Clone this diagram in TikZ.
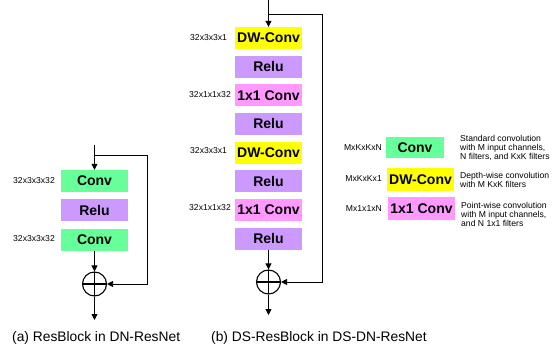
\documentclass[tikz,border=0pt]{standalone}
\usepackage{fontspec}
\setmainfont{Liberation Sans}
\definecolor{convgreen}{HTML}{66FF99}
\definecolor{relupurple}{HTML}{CC99FF}
\definecolor{dwyellow}{HTML}{FFFF00}
\definecolor{pwpink}{HTML}{FF99FF}
\usetikzlibrary{calc}
\usetikzlibrary{positioning}
\usetikzlibrary{arrows.meta}

\begin{document}
\begin{tikzpicture}[x=1pt, y=-1pt,
    blk/.style={rectangle, minimum width=67pt, minimum height=22pt, inner sep=0pt, font=\fontsize{14}{16}\selectfont\bfseries},
    dim/.style={inner sep=0pt, font=\fontsize{8.6}{9}\selectfont},
    flow/.style={-{Triangle[width=6pt,length=6pt]}, line width=0.8pt},
    sum/.style={circle, draw, line width=1.1pt, minimum size=24pt, inner sep=0pt,
      path picture={\draw[line width=1.1pt] (path picture bounding box.north) -- (path picture bounding box.south)
        (path picture bounding box.west) -- (path picture bounding box.east);}}]
      \useasboundingbox (0,0) rectangle (552,350);
      % (a) ResBlock
      \node[blk, fill=convgreen] (a1) at (94.5,181) {Conv};
      \node[blk, fill=relupurple, below=7pt of a1] (a2) {Relu};
      \node[blk, fill=convgreen, below=7pt of a2] (a3) {Conv};
      \node[sum] (s1) at (94.5,284) {};
      \node[dim, anchor=east] (d1) at (55,181) {32x3x3x32};
      \node[dim, anchor=east] (d2) at (55,239) {32x3x3x32};
      \coordinate (ain) at (94.5,145);
      \coordinate (abr) at (94.5,155);
      \coordinate (acorner) at (147,155);
      \coordinate (aout) at (94.5,320);
      \draw[flow] (ain) -- (a1);
      \draw[flow] (abr) -- (acorner) |- (s1);
      \draw[flow] (a3) -- (s1);
      \draw[flow] (s1) -- (aout);
      \node[anchor=west, inner sep=0pt, font=\fontsize{13.8}{15}\selectfont] (ca) at (12,338) {(a) ResBlock in DN-ResNet};
      % (b) DS-ResBlock
      \node[blk, fill=dwyellow] (b1) at (268.5,38) {DW-Conv};
      \node[blk, fill=relupurple, below=6.25pt of b1] (b2) {Relu};
      \node[blk, fill=pwpink, below=6.25pt of b2] (b3) {1x1 Conv};
      \node[blk, fill=relupurple, below=6.25pt of b3] (b4) {Relu};
      \node[blk, fill=dwyellow, below=6.25pt of b4] (b5) {DW-Conv};
      \node[blk, fill=relupurple, below=6.25pt of b5] (b6) {Relu};
      \node[blk, fill=pwpink, below=6.25pt of b6] (b7) {1x1 Conv};
      \node[blk, fill=relupurple, below=6.25pt of b7] (b8) {Relu};
      \node[sum] (s2) at (268.5,282) {};
      \node[dim, anchor=west] (e1) at (190,38) {32x3x3x1};
      \node[dim, anchor=west] (e2) at (189,94.5) {32x1x1x32};
      \node[dim, anchor=west] (e3) at (190,151) {32x3x3x1};
      \node[dim, anchor=west] (e4) at (189,207.5) {32x1x1x32};
      \coordinate (bin) at (268.5,0);
      \coordinate (bbr) at (268.5,14);
      \coordinate (bcorner) at (322,14);
      \coordinate (bout) at (268.5,315);
      \draw[flow] (bin) -- (b1);
      \draw[flow] (bbr) -- (bcorner) |- (s2);
      \draw[flow] (b8) -- (s2);
      \draw[flow] (s2) -- (bout);
      \node[anchor=west, inner sep=0pt, font=\fontsize{13.8}{15}\selectfont] (cb) at (211,338) {(b) DS-ResBlock in DS-DN-ResNet};
      % legend
      \node[blk, fill=convgreen, minimum width=58pt, minimum height=21pt] (l1) at (415,147.5) {Conv};
      \node[blk, fill=dwyellow, minimum height=23pt] (l2) at (420.5,179.5) {DW-Conv};
      \node[blk, fill=pwpink, minimum height=23pt] (l3) at (421.5,208.5) {1x1 Conv};
      \node[dim, anchor=east] (m1) at (382,148) {MxKxKxN};
      \node[dim, anchor=east] (m2) at (382,179) {MxKxKx1};
      \node[dim, anchor=east] (m3) at (382,209) {Mx1x1xN};
      \node[dim, anchor=west, align=left] (t1) at (460,148) {Standard convolution\\with M input channels,\\N filters, and KxK filters};
      \node[dim, anchor=west, align=left] (t2) at (460,180) {Depth-wise convolution\\with M KxK filters};
      \node[dim, anchor=west, align=left] (t3) at (461,214) {Point-wise convolution\\with M input channels,\\and N 1x1 filters};
    \end{tikzpicture}
\end{document}
